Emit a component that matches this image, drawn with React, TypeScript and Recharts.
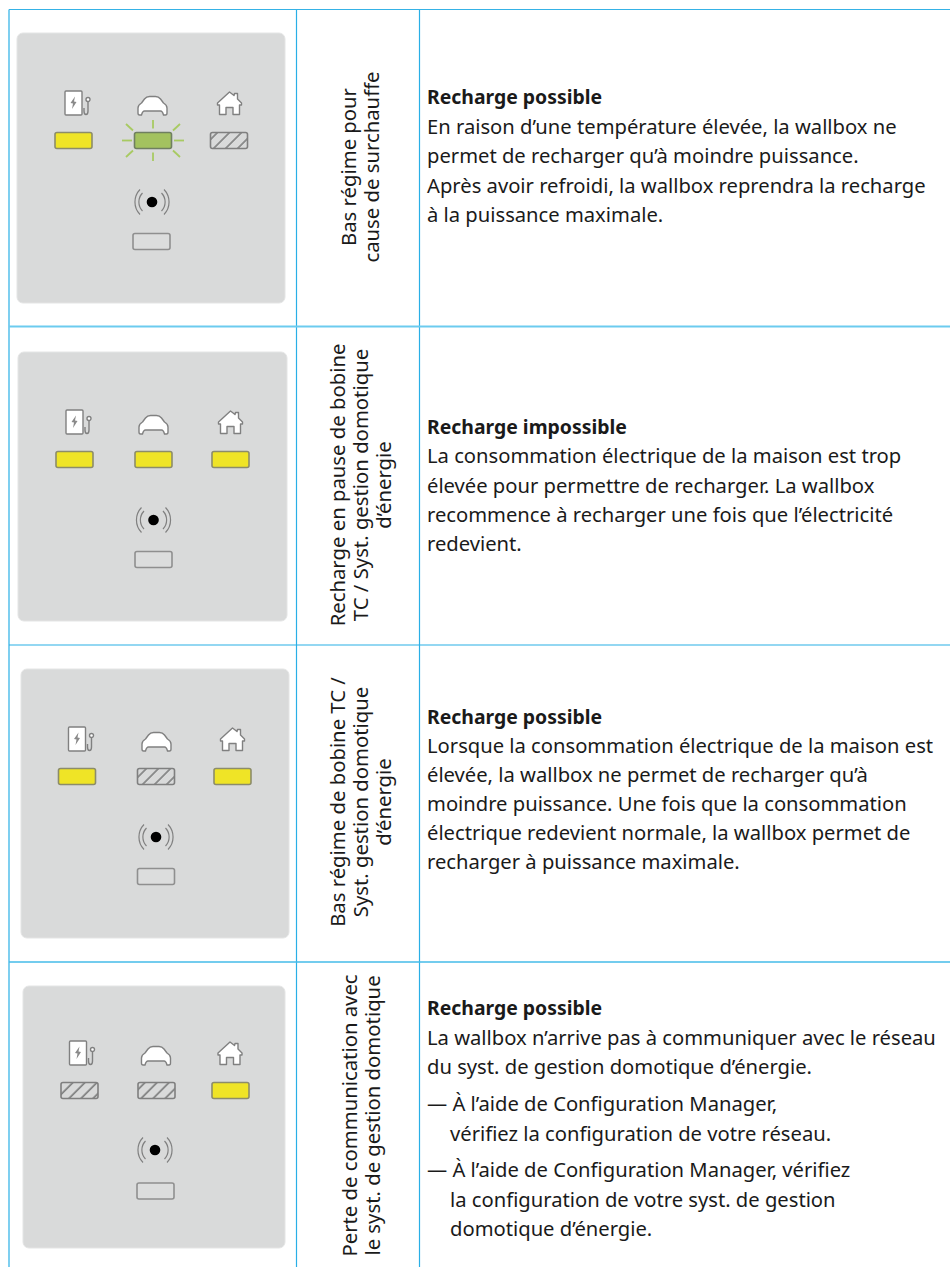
import React from 'react';
import { ScatterChart, Scatter, XAxis, YAxis, ReferenceLine, ReferenceArea } from 'recharts';

const WIDTH = 950;
const HEIGHT = 1267;
const FONT = '"Noto Sans", sans-serif';

// table grid
const gridColumns = [9, 296.5, 419.5];
const gridRows = [9.5, 326.5, 645, 962];
const gridRowStrokes = [1.2, 2, 1.2, 1.5];
const gridRowColors = ['#35b2e6', '#6ccbef', '#29afe6', '#45bbe9'];

// front panels, one per row
const panelLeft = [17, 18, 21, 23];
const panelRight = [285, 287, 289, 285];
const panelTop = [33, 352, 669, 986];
const panelBottom = [303, 621, 938, 1248];

// LED states: wallbox, car, house
const ledStates = [
  ['on', 'blink', 'hatched'],
  ['on', 'on', 'on'],
  ['on', 'hatched', 'on'],
  ['hatched', 'hatched', 'on'],
];
const ledColumnX = [
  [73.5, 153, 229],
  [74.5, 153.5, 230.5],
  [77, 156, 232.5],
  [79.5, 156.5, 230.5],
];
const ledRowY = [140.5, 459.5, 776.5, 1090.5];
const iconColumnX = [
  [73.5, 152.5, 229.5],
  [74.5, 153.5, 230.5],
  [77, 156.5, 232.5],
  [78, 156, 230],
];
const iconKinds = ['wallbox', 'car', 'house'];
const radioX = [152, 153.5, 156, 155];
const radioY = [202, 520, 837, 1150];
const lowerLedX = [151.5, 153.5, 156, 155.5];
const lowerLedY = [241.5, 559.5, 876.5, 1191];

// rotated status names
const statusLines = [
  ['Bas régime pour', 'cause de surchauffe'],
  ['Recharge en pause de bobine', 'TC / Syst. gestion domotique', 'd’énergie'],
  ['Bas régime de bobine TC /', 'Syst. gestion domotique', 'd’énergie'],
  ['Perte de communication avec', 'le syst. de gestion domotique'],
];
const statusCenterY = [167, 485, 802, 1115.5];
const statusBaselineX = [
  [356, 379],
  [344.5, 367.5, 390.5],
  [344.5, 367.5, 390.5],
  [356.5, 379.5],
];

// descriptions
const headings = ['Recharge possible', 'Recharge impossible', 'Recharge possible', 'Recharge possible'];
const headingBaseline = [104, 434, 724, 1015];
const bodyLines = [
  [
    'En raison d’une température élevée, la wallbox ne',
    'permet de recharger qu’à moindre puissance.',
    'Après avoir refroidi, la wallbox reprendra la recharge',
    'à la puissance maximale.',
  ],
  [
    'La consommation électrique de la maison est trop',
    'élevée pour permettre de recharger. La wallbox',
    'recommence à recharger une fois que l’électricité',
    'redevient.',
  ],
  [
    'Lorsque la consommation électrique de la maison est',
    'élevée, la wallbox ne permet de recharger qu’à',
    'moindre puissance. Une fois que la consommation',
    'électrique redevient normale, la wallbox permet de',
    'recharger à puissance maximale.',
  ],
  [
    'La wallbox n’arrive pas à communiquer avec le réseau',
    'du syst. de gestion domotique d’énergie.',
    '— À l’aide de Configuration Manager,',
    'vérifiez la configuration de votre réseau.',
    '— À l’aide de Configuration Manager, vérifiez',
    'la configuration de votre syst. de gestion',
    'domotique d’énergie.',
  ],
];
const bodyBaselines = [
  [133.5, 163, 192.5, 221.5],
  [463, 492.5, 522, 551],
  [753, 782, 811, 840, 869],
  [1045, 1074, 1111, 1141, 1177, 1207, 1236],
];
const bodyIndent = [
  [0, 0, 0, 0],
  [0, 0, 0, 0],
  [0, 0, 0, 0, 0],
  [0, 0, 0, 23, 0, 23, 23],
];

// points fed to the scatter series
const ledPoints = ledStates.flatMap((row, r) =>
  row.map((state, c) => ({ x: ledColumnX[r][c], y: ledRowY[r], state }))
);
const lowerLedPoints = lowerLedX.map((x, r) => ({ x, y: lowerLedY[r], state: 'off' }));
const iconPoints = iconColumnX.flatMap((row, r) =>
  row.map((x, c) => ({ x, y: ledRowY[r] - 37.5, kind: iconKinds[c] }))
);
const radioPoints = radioX.map((x, r) => ({ x, y: radioY[r] }));
const statusPoints = statusLines.flatMap((lines, r) =>
  lines.map((text, i) => ({ x: statusBaselineX[r][i], y: statusCenterY[r], text }))
);
const headingPoints = headings.map((text, r) => ({ x: 427, y: headingBaseline[r], text }));
const bodyPoints = bodyLines.flatMap((lines, r) =>
  lines.map((text, i) => ({ x: 427 + bodyIndent[r][i], y: bodyBaselines[r][i], text }))
);

const soft = { filter: 'blur(0.35px)' };
const rays = [
  [0, -20.5, 0, -12],
  [0, 12, 0, 20.5],
  [-31, 0, -21, 0],
  [21, 0, 31, 0],
  [-27, -16.5, -20, -10],
  [27, -16.5, 20, -10],
  [-27, 16.5, -20, 10],
  [27, 16.5, 20, 10],
];

const ledFill: Record<string, string> = {
  on: '#efe426',
  blink: '#a3c25f',
  hatched: 'url(#ledHatch)',
  off: '#dcdddd',
};
const ledStroke: Record<string, string> = {
  on: '#8c8c6a',
  blink: '#6f7f60',
  hatched: '#7f7f7f',
  off: '#8f8f8f',
};

const LedShape = (props: any) => {
  const { cx, cy, payload } = props;
  const state = payload.state;
  return (
    <g style={soft}>
      {state === 'blink' &&
        rays.map((r, i) => (
          <line key={i} x1={cx + r[0]} y1={cy + r[1]} x2={cx + r[2]} y2={cy + r[3]} stroke="#a8ca62" strokeWidth={1.8} />
        ))}
      <rect
        x={cx - 18.5}
        y={cy - 8}
        width={37}
        height={16}
        rx={2}
        fill={ledFill[state]}
        stroke={ledStroke[state]}
        strokeWidth={1.6}
      />
    </g>
  );
};

const IconShape = (props: any) => {
  const { cx, cy, payload } = props;
  const line = { stroke: '#808080', strokeWidth: 1.4, strokeLinejoin: 'round' as const };
  if (payload.kind === 'wallbox') {
    return (
      <g transform={`translate(${cx},${cy})`} style={soft}>
        <rect x={-8.5} y={-12} width={17} height={24} rx={1} fill="#ffffff" {...line} />
        <path d="M1.5,-6.5 L-3,0 L-0.5,0.5 L-1.5,6 L3,-1 L0.5,-1.5 Z" fill="#8a8a8a" stroke="none" />
        <circle cx={14.5} cy={-3.5} r={2} fill="#ffffff" {...line} />
        <path d="M14.5,-1.5 V8 Q14.5,11.5 12.5,11.5 Q10.5,11.5 10.5,8 V5" fill="none" {...line} />
      </g>
    );
  }
  if (payload.kind === 'car') {
    return (
      <g transform={`translate(${cx},${cy + 3})`} style={soft}>
        <path
          d="M-11,9 H-13 Q-14.5,9 -14.5,7 V2 Q-14.5,-1 -11,-3 L-8,-7 Q-6,-9.5 -3,-9.5 H3 Q6,-9.5 8,-7 L11,-3 Q14.5,-1 14.5,2 V7 Q14.5,9 13,9 H11 Q10,5 8,5 H-8 Q-10,5 -11,9 Z"
          fill="#ffffff"
          {...line}
        />
      </g>
    );
  }
  return (
    <g transform={`translate(${cx},${cy})`} style={soft}>
      <path
        d="M0,-11 L4.5,-7.5 L5,-9.5 L8,-9.5 L8,-4 L12,0 L12,2 L10,2 L10,11.5 L3.5,11.5 L3.5,4.5 L-3.5,4.5 L-3.5,11.5 L-10,11.5 L-10,2 L-12,2 L-12,0 Z"
        fill="#ffffff"
        {...line}
      />
    </g>
  );
};

const RadioShape = (props: any) => {
  const { cx, cy } = props;
  const arcs = { fill: 'none', stroke: '#808080', strokeWidth: 1.2 };
  return (
    <g transform={`translate(${cx},${cy})`} style={soft}>
      <circle r={5.3} fill="#000000" />
      <path d="M-9.5,-9 A13,13 0 0 0 -9.5,9 M9.5,-9 A13,13 0 0 1 9.5,9" {...arcs} />
      <path d="M-12,-12.5 A18,18 0 0 0 -12,12.5 M12,-12.5 A18,18 0 0 1 12,12.5" {...arcs} />
    </g>
  );
};

const textShape = (weight: number, size: number) => (props: any) => {
  const { cx, cy, payload } = props;
  return (
    <text x={cx} y={cy} fontFamily={FONT} fontSize={size} fontWeight={weight} fill="#1a1a1a">
      {payload.text}
    </text>
  );
};

const StatusShape = (props: any) => {
  const { cx, cy, payload } = props;
  return (
    <text
      transform={`translate(${cx},${cy}) rotate(-90)`}
      textAnchor="middle"
      fontFamily={FONT}
      fontSize={20.3}
      fill="#1a1a1a"
    >
      {payload.text}
    </text>
  );
};

export default function App() {
  return (
    <div style={{ position: 'absolute', left: 0, top: 0, width: WIDTH, height: HEIGHT, background: '#ffffff' }}>
      <ScatterChart width={WIDTH} height={HEIGHT} margin={{ top: 0, right: 0, bottom: 0, left: 0 }}>
        <defs>
          <pattern id="ledHatch" patternUnits="userSpaceOnUse" width={8.5} height={8.5} patternTransform="rotate(45)">
            <rect width={8.5} height={8.5} fill="#d9dada" />
            <line x1={1} y1={0} x2={1} y2={8.5} stroke="#666666" strokeWidth={1.3} />
          </pattern>
        </defs>
        <XAxis type="number" dataKey="x" domain={[0, WIDTH]} hide />
        <YAxis type="number" dataKey="y" domain={[0, HEIGHT]} reversed hide />
        {panelLeft.map((x1, r) => (
          <ReferenceArea
            key={r}
            x1={x1}
            x2={panelRight[r]}
            y1={panelTop[r]}
            y2={panelBottom[r]}
            radius={6}
            fill="#d9dada"
            fillOpacity={1}
            stroke="#e4e5e5"
            strokeWidth={1}
          />
        ))}
        {gridColumns.map((x) => (
          <ReferenceLine
            key={x}
            segment={[
              { x, y: gridRows[0] },
              { x, y: HEIGHT },
            ]}
            stroke="#29afe6"
            strokeWidth={1.2}
          />
        ))}
        {gridRows.map((y, i) => (
          <ReferenceLine
            key={y}
            segment={[
              { x: gridColumns[0], y },
              { x: WIDTH, y },
            ]}
            stroke={gridRowColors[i]}
            strokeWidth={gridRowStrokes[i]}
          />
        ))}
        <Scatter data={iconPoints} shape={IconShape} isAnimationActive={false} />
        <Scatter data={ledPoints} shape={LedShape} isAnimationActive={false} />
        <Scatter data={lowerLedPoints} shape={LedShape} isAnimationActive={false} />
        <Scatter data={radioPoints} shape={RadioShape} isAnimationActive={false} />
        <Scatter data={statusPoints} shape={StatusShape} isAnimationActive={false} />
        <Scatter data={headingPoints} shape={textShape(700, 19.4)} isAnimationActive={false} />
        <Scatter data={bodyPoints} shape={textShape(400, 20.2)} isAnimationActive={false} />
      </ScatterChart>
    </div>
  );
}
